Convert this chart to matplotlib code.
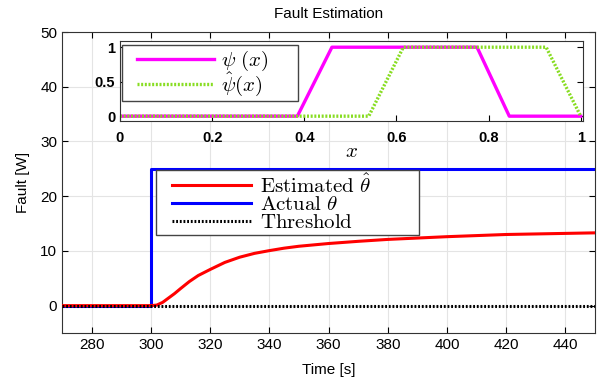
import numpy as np
from matplotlib import pyplot as plt
from matplotlib.patches import Rectangle

plt.rcParams['font.family'] = ['Liberation Sans', 'DejaVu Sans']
plt.rcParams['mathtext.fontset'] = 'cm'

# main plot data
t_est = [270, 300, 302, 304, 306, 308, 310, 313, 316, 320, 325, 330, 335, 340, 345, 350, 355,
         360, 370, 380, 390, 400, 410, 420, 430, 440, 450]
est = [0, 0, 0.1, 0.6, 1.4, 2.2, 3.1, 4.4, 5.5, 6.6, 7.9, 8.85, 9.55, 10.05, 10.5, 10.85, 11.1,
       11.35, 11.75, 12.1, 12.35, 12.6, 12.8, 13.0, 13.1, 13.2, 13.3]
t_act = [270, 300, 300, 450]
act = [0, 0, 25, 25]
t_thr = [270, 450]
thr = [0, 0]

# inset data
x_psi = [0, 0.385, 0.46, 0.775, 0.845, 1.0]
psi = [0, 0, 1, 1, 0, 0]
x_psih = [0, 0.54, 0.615, 0.925, 1.0]
psih = [0, 0, 1, 1, 0]

W, H = 600, 384


def fig_box(x0, y0, x1, y1):
    # pixel box (top-left origin) -> figure fraction rect
    return (x0 / W, (H - y1) / H, (x1 - x0) / W, (y1 - y0) / H)


fig = plt.figure(figsize=(6, 3.84), dpi=100)
ax = fig.add_axes([62/600, 51/384, 533/600, 301/384])

ax.plot(t_est, est, color='#ff0000', lw=2.2, label=r'$\mathrm{Estimated}\ \hat{\theta}$', zorder=3)
ax.plot(t_act, act, color='#0000ff', lw=2.2, label=r'$\mathrm{Actual}\ \theta$', zorder=2)
ax.plot(t_thr, thr, color='black', lw=2.2, ls=(0, (0.6, 0.6)), label=r'$\mathrm{Threshold}$', zorder=4)

ax.set_xlim(270, 450)
ax.set_ylim(-5, 50)
ax.set_xticks(range(280, 450, 20))
ax.set_yticks(range(0, 51, 10))
ax.grid(True, color='#e4e4e4', lw=0.8)
ax.tick_params(direction='in', top=True, right=True, labelsize=11, length=4)
for s in ax.spines.values():
    s.set_color('#333333')
ax.set_xlabel('Time [s]', fontsize=11, labelpad=8)
ax.set_ylabel('Fault [W]', fontsize=11, labelpad=7)
ax.set_title('Fault Estimation', fontsize=11, pad=10)

# legend box (matlab style, larger than its content)
x, y, w, h = fig_box(156, 170, 419, 235)
ax.add_patch(Rectangle((x, y), w, h, transform=fig.transFigure, facecolor='white',
                       edgecolor='#444444', lw=1.0, zorder=4.6, clip_on=False))
leg = ax.legend(loc='upper left', bbox_to_anchor=(172 / W, (H - 173) / H),
                bbox_transform=fig.transFigure, borderaxespad=0, borderpad=0,
                fontsize=15, frameon=False, handlelength=3.8, handletextpad=0.43,
                labelspacing=-0.06)
leg.set_zorder(5)

# inset
ax2 = fig.add_axes([120/600, 263/384, 463/600, 80/384])
ax2.plot(x_psi, psi, color='#ff00ff', lw=2.4, label=r'$\psi\ (x)$')
ax2.plot(x_psih, psih, color='#88dd22', lw=2.4, ls=(0, (0.6, 0.5)), label=r'$\hat{\psi}(x)$')
ax2.set_xlim(0, 1.005)
ax2.set_ylim(-0.07, 1.09)
ax2.set_xticks([0, 0.2, 0.4, 0.6, 0.8, 1])
ax2.set_xticklabels(['0', '0.2', '0.4', '0.6', '0.8', '1'])
ax2.set_yticks([0, 0.5, 1])
ax2.set_yticklabels(['0', '0.5', '1'])
ax2.tick_params(direction='in', right=True, labelsize=10.5, length=4)
ax2.tick_params(axis='x', pad=7)
for lab in ax2.get_xticklabels() + ax2.get_yticklabels():
    lab.set_fontweight('bold')
for s in ax2.spines.values():
    s.set_color('#333333')
ax2.set_xlabel(r'$x$', fontsize=15, labelpad=-2)

x, y, w, h = fig_box(122, 45, 298, 101)
ax2.add_patch(Rectangle((x, y), w, h, transform=fig.transFigure, facecolor='white',
                        edgecolor='#444444', lw=1.0, zorder=4.6, clip_on=False))
leg2 = ax2.legend(loc='upper left', bbox_to_anchor=(137 / W, (H - 49) / H),
                  bbox_transform=fig.transFigure, borderaxespad=0, borderpad=0,
                  fontsize=15, frameon=False, handlelength=3.7, handletextpad=0.33,
                  labelspacing=-0.12)
leg2.set_zorder(5)

plt.savefig('out.png', dpi=100)
